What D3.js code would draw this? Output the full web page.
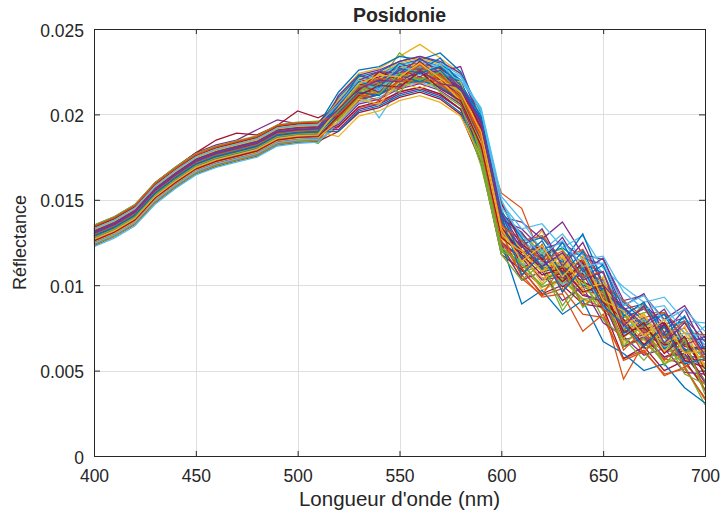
<!DOCTYPE html>
<html><head><meta charset="utf-8">
<script src="https://cdn.jsdelivr.net/npm/d3@7/dist/d3.min.js"></script>
<style>
body{margin:0;background:#fff}
svg{display:block}
text{font-family:"Liberation Sans",Arial,Helvetica,sans-serif;fill:#262626}
</style>
</head><body>
<svg id="chart" width="721" height="511"></svg>
<script>
// ---- data ----
const wavelengths = [400,410,420,430,440,450,460,470,480,490,500,510,520,530,540,550,560,570,580,590,600,610,620,630,640,650,660,670,680,690,700];
const s01 = [.0133,.0138,.01445,.01575,.01668,.01748,.01792,.01826,.01852,.01918,.0193,.01935,.0206,.02185,.02205,.02275,.023,.02262,.0217,.0193,.0138,.013,.0117,.0122,.0113,.0107,.0081,.0086,.0075,.0079,.0061];
const s02 = [.0124,.0129,.01365,.01488,.0158,.01662,.01705,.01738,.01768,.0183,.01846,.01852,.01925,.0204,.02065,.02135,.0216,.02118,.0203,.0176,.0122,.0104,.0094,.0098,.0083,.0081,.0057,.0062,.0047,.0052,.0033];
const s03 = [.013,.01352,.0142,.01552,.01642,.01722,.01766,.01795,.01826,.0189,.01902,.01908,.0211,.0224,.0227,.0234,.0241,.0233,.0224,.0199,.0145,.0116,.0132,.0105,.0112,.0093,.0082,.0073,.0078,.0065,.0062];
const s04 = [.0135,.014,.0147,.016,.0169,.01775,.01822,.0185,.0191,.01968,.01945,.01955,.0203,.0214,.0217,.0223,.0226,.0225,.0228,.0196,.014,.0137,.0127,.0137,.0118,.0115,.0091,.0094,.008,.0088,.0069];
const s05 = [.0127,.01322,.01392,.01522,.01612,.0169,.01733,.01765,.01795,.01858,.01872,.0183,.0195,.0215,.02185,.0236,.0227,.0223,.0214,.018,.012,.0108,.0111,.0085,.0102,.0085,.0075,.0063,.0066,.0053,.003];
const s06 = [.0132,.0137,.0144,.0157,.0166,.01742,.01786,.01815,.01848,.01908,.01925,.01928,.0203,.0215,.0198,.0216,.022,.0217,.0209,.019,.0142,.0127,.0116,.0118,.0118,.0095,.0085,.0073,.0078,.0066,.0076];
const s07 = [.01345,.01392,.01462,.016,.0169,.01775,.0185,.0189,.0188,.01935,.0202,.0198,.0204,.0215,.0218,.0223,.0225,.0221,.0212,.0188,.0133,.0123,.0108,.011,.0099,.0098,.0072,.0075,.0066,.0067,.0052];
const s08 = [.01342,.01392,.01462,.0159,.0168,.01758,.01803,.01835,.01866,.01928,.01944,.0195,.0208,.022,.02235,.0229,.0232,.0228,.0219,.0195,.0136,.0115,.0122,.0104,.0111,.0101,.0072,.0081,.0066,.0068,.0051];
const s09 = [.0125,.013,.01372,.01498,.01592,.01672,.01716,.01748,.01776,.0184,.01855,.0186,.0196,.0208,.02115,.0217,.022,.0216,.0207,.0182,.0125,.011,.0099,.0103,.0092,.0087,.0045,.0066,.0057,.0054,.0042];
const s10 = [.01282,.0133,.014,.01528,.0162,.017,.01745,.01776,.01806,.0187,.01885,.01892,.01995,.02115,.0215,.02215,.0225,.0221,.02115,.0184,.0129,.0112,.0119,.0103,.011,.0087,.008,.0068,.0073,.0058,.0058];
const s11 = [.01312,.0136,.01432,.0156,.0165,.01732,.01776,.01806,.01836,.019,.01915,.0192,.0191,.0203,.0206,.0212,.0215,.0211,.0203,.0177,.0124,.0116,.0104,.0107,.0097,.0094,.0068,.0071,.0061,.0063,.0049];
const s12 = [.01262,.01312,.0138,.0151,.016,.0168,.01725,.01756,.01786,.0185,.01866,.01872,.0201,.0214,.0217,.02225,.0226,.0222,.02125,.0175,.0128,.013,.0119,.0121,.0105,.0104,.0079,.0084,.0084,.0067,.0057];
const s13 = [.0129,.01342,.01412,.0154,.01632,.01712,.01756,.01786,.01818,.0188,.01896,.01902,.0207,.0218,.02215,.0227,.023,.0227,.022,.0203,.015,.0126,.0129,.0114,.012,.0107,.0084,.0088,.0075,.0078,.0065];
const s14 = [.01232,.01285,.01355,.01482,.01574,.01652,.01696,.01728,.01756,.0182,.01836,.01842,.019,.0201,.0204,.021,.0213,.0209,.02,.0172,.0118,.0109,.0095,.01,.0089,.0087,.0057,.0064,.005,.0056,.0039];
const s15 = [.01325,.01376,.01446,.01574,.01665,.01745,.0179,.0182,.0185,.01914,.0193,.01936,.0213,.0226,.0228,.0234,.0232,.0236,.0225,.0201,.0142,.012,.0108,.0113,.0099,.0094,.008,.0065,.0072,.0058,.0058];
const s16 = [.01295,.01346,.01416,.01545,.01636,.01716,.0176,.0179,.0182,.01884,.019,.01906,.0199,.02105,.02135,.0219,.0222,.0218,.0209,.0186,.0133,.0119,.0122,.0108,.0115,.0093,.0083,.0072,.0076,.0061,.0061];
const s17 = [.01246,.01296,.01366,.01494,.01585,.01665,.0171,.01741,.0177,.01834,.0185,.01856,.0209,.0221,.0224,.023,.0233,.0229,.022,.0188,.0126,.0115,.0097,.0103,.0091,.009,.0066,.0068,.0055,.0059,.0044];
const s18 = [.01336,.01388,.01458,.01584,.01676,.01755,.018,.0183,.0186,.01924,.0194,.01945,.0197,.0209,.0212,.0218,.0221,.0217,.0208,.0182,.0138,.0133,.0121,.0125,.0116,.0112,.0086,.0089,.0077,.0081,.0067];
const s19 = [.01236,.01286,.01358,.01486,.01576,.01656,.017,.01731,.0176,.01824,.0184,.01846,.01985,.021,.0213,.02185,.0221,.0217,.0206,.017,.0121,.0116,.0116,.0101,.0107,.01,.0073,.0077,.0064,.0056,.0052];
const s20 = [.01305,.01356,.01426,.01555,.01646,.01726,.0177,.018,.0183,.01895,.0191,.01916,.0204,.0216,.0219,.0224,.0227,.0223,.0216,.02,.0148,.0133,.0136,.0122,.0129,.011,.0099,.009,.0093,.0079,.0078];
const s21 = [.01276,.01326,.01396,.01524,.01615,.01695,.0174,.0177,.018,.01864,.0188,.01886,.0193,.02045,.02075,.0213,.0216,.0212,.0203,.0179,.0125,.0116,.0104,.0107,.0094,.0091,.0064,.0069,.0058,.0062,.0044];
const s22 = [.01316,.01366,.01436,.01565,.01656,.01736,.0178,.0181,.0184,.01905,.0192,.01926,.021,.0222,.0225,.0231,.0234,.023,.022,.019,.0125,.0089,.0097,.0083,.0091,.0067,.006,.005,.0054,.004,.0031];
const s23 = [.01256,.01306,.01376,.01505,.01595,.01675,.0172,.0175,.0178,.01845,.0186,.01866,.0205,.0217,.022,.0226,.0229,.0225,.0216,.019,.0154,.0145,.0115,.0116,.0106,.0103,.0074,.0081,.007,.0075,.0056];
const s24 = [.01288,.01338,.0141,.01538,.0163,.01708,.01754,.01784,.01814,.01878,.01894,.01898,.0187,.0199,.0202,.0208,.0211,.0207,.0199,.0175,.0128,.0123,.011,.0114,.0104,.0099,.0075,.0079,.0065,.0067,.0053];
const s25 = [.01265,.01316,.01386,.01515,.01605,.01685,.0173,.0176,.0179,.01854,.0187,.01876,.02,.0212,.02155,.0221,.0224,.022,.0211,.0183,.0124,.0103,.0108,.0091,.0099,.0078,.007,.0059,.0063,.0049,.0048];
const s26 = [.0133,.0138,.01452,.0158,.0167,.0175,.01795,.01825,.01855,.01918,.01934,.0194,.0201,.0213,.0216,.02215,.0224,.022,.0211,.018,.0127,.0125,.0108,.0114,.0101,.0099,.0074,.009,.0064,.0069,.0051];
const s27 = [.01225,.01276,.01346,.01474,.01566,.01646,.0169,.0172,.0175,.01815,.0183,.01838,.0195,.0207,.021,.0216,.0219,.0215,.0208,.0198,.014,.012,.0109,.0112,.0102,.0097,.0071,.0075,.0064,.0068,.0057];
const s28 = [.013,.0135,.01422,.0155,.01641,.0172,.01765,.01796,.01826,.0189,.01906,.01912,.0207,.0219,.0222,.0228,.023,.0227,.0218,.0195,.014,.011,.0116,.0099,.0107,.0086,.0078,.0065,.0071,.0057,.0056];
const s29 = [.01285,.01336,.01406,.01535,.01626,.01706,.0175,.0178,.0181,.01875,.0189,.01896,.019,.0202,.0205,.0211,.0214,.021,.0201,.0178,.013,.0124,.0128,.0113,.013,.0101,.009,.0079,.0083,.0069,.0068];
const s30 = [.0132,.0137,.0144,.01568,.0166,.0174,.01784,.01815,.01845,.01908,.01924,.0193,.0204,.02155,.02185,.0224,.0227,.0223,.0214,.0187,.0126,.0106,.0093,.0095,.0073,.0083,.0056,.0061,.0048,.0051,.0034];
const s31 = [.0131,.01362,.01432,.0156,.01652,.0173,.01774,.01805,.01834,.01898,.01914,.0192,.0199,.0211,.0214,.02195,.0222,.0218,.021,.0184,.0131,.0117,.0104,.0109,.0097,.0093,.0067,.0072,.0061,.0065,.0054];
const s32 = [.01252,.01302,.01372,.015,.01592,.01672,.01716,.01746,.01776,.0184,.01856,.01862,.0211,.0223,.0226,.0231,.0234,.0231,.0224,.0196,.0136,.0115,.0122,.0107,.0114,.0092,.0085,.0072,.0077,.0062,.0063];
const s33 = [.01352,.01402,.01472,.016,.01692,.0177,.01814,.01845,.01875,.01938,.01955,.0196,.0202,.0214,.0217,.0223,.0226,.0222,.0212,.0178,.0122,.0113,.0099,.0104,.0092,.0092,.0064,.0069,.0054,.0059,.0044];
const s34 = [.0127,.0132,.0139,.0152,.01612,.0169,.01735,.01765,.01795,.0186,.01876,.0188,.02,.0212,.0215,.0221,.02245,.02195,.0212,.02,.0145,.0112,.0114,.01,.0108,.0087,.0077,.0065,.007,.0055,.0054];
const s35 = [.01322,.01372,.01442,.0157,.01662,.0174,.01786,.01816,.01846,.0191,.01926,.01932,.0205,.0217,.022,.0225,.0228,.0224,.0215,.019,.0134,.0119,.0123,.0108,.0115,.0096,.0087,.0074,.0078,.0064,.0063];
const s36 = [.013,.0135,.0142,.01548,.0164,.0172,.01765,.01794,.01825,.0189,.01904,.0191,.0197,.02085,.02115,.02175,.022,.0216,.0208,.0185,.013,.0123,.0109,.0111,.01,.0098,.0072,.0076,.0063,.0067,.0051];
const s37 = [.01242,.01292,.01362,.0149,.01582,.01662,.01706,.01736,.01766,.0183,.01846,.01852,.01985,.021,.0213,.0219,.0222,.0218,.0209,.0182,.0135,.0126,.0129,.0115,.0121,.0101,.0091,.0081,.0084,.0072,.0071];
const s38 = [.01336,.01386,.01456,.01585,.01676,.01756,.018,.0183,.0186,.01924,.0194,.01946,.0206,.0218,.0221,.0227,.023,.0226,.0217,.0192,.0135,.0121,.0108,.0113,.0101,.0096,.007,.0076,.0065,.0068,.0053];
const s39 = [.0128,.0133,.01402,.0153,.0162,.017,.01745,.01775,.01806,.0187,.01885,.01892,.0194,.0206,.0209,.0215,.0218,.0214,.0206,.018,.0125,.0116,.0103,.0105,.0095,.009,.0064,.007,.0058,.006,.0043];
const s40 = [.01305,.01355,.01425,.01553,.01645,.01725,.0177,.018,.0183,.01894,.0191,.01915,.0202,.0214,.0217,.0223,.0226,.0222,.0213,.0176,.012,.0114,.0121,.0106,.0111,.0091,.0083,.007,.0075,.0061,.0061];
const s41 = [.0126,.0131,.0138,.01508,.016,.0168,.01725,.01755,.01785,.0185,.01866,.01872,.0208,.022,.0223,.0229,.0231,.0228,.0222,.0202,.0148,.0125,.0112,.0116,.0105,.0102,.0075,.008,.0067,.0072,.0065];
const s42 = [.0129,.0134,.0141,.0154,.0163,.0171,.01755,.01785,.01815,.0188,.01895,.019,.02,.0212,.0215,.0221,.0224,.022,.0211,.0186,.0132,.012,.011,.0111,.0102,.0096,.0073,.0075,.0065,.0067,.0052];
const s43 = [.0131,.01362,.0143,.0156,.0165,.0173,.01775,.01805,.01836,.01898,.01912,.01918,.0205,.0223,.0219,.023,.0226,.0233,.0218,.0199,.0143,.0128,.011,.0125,.0104,.0112,.0082,.009,.007,.0082,.0056];
const s44 = [.01265,.01315,.01385,.01515,.01606,.01686,.0173,.0176,.0179,.01855,.0187,.01876,.0199,.0208,.0217,.0215,.0226,.0217,.0212,.0186,.0131,.0105,.0124,.0096,.0115,.0086,.0078,.006,.0076,.0052,.006];
const s45 = [.01325,.01375,.01446,.01575,.01665,.01745,.0179,.0182,.0185,.01915,.0193,.01935,.0208,.0214,.0224,.0221,.023,.022,.0219,.0187,.013,.0118,.0101,.0117,.0095,.0105,.0069,.0083,.0061,.0076,.0048];
const s46 = [.01285,.01335,.01405,.01535,.01625,.01705,.0175,.0178,.0181,.01875,.0189,.01895,.0202,.0217,.0213,.0226,.0222,.0228,.0215,.0193,.0139,.0131,.0115,.0128,.0108,.0116,.0088,.0095,.0072,.0086,.0062];
const s47 = [.01295,.01345,.01415,.01545,.01635,.01715,.0176,.0179,.0182,.01885,.019,.01905,.0197,.021,.0218,.0213,.0225,.0213,.0205,.0173,.0118,.0103,.0113,.0088,.0104,.008,.0069,.0056,.007,.0048,.0042];
const s48 = [.01245,.01295,.01365,.01495,.01585,.01665,.0171,.0174,.0177,.01835,.0185,.01856,.0204,.0219,.0214,.0225,.0228,.0225,.022,.0204,.0152,.0138,.012,.013,.0115,.0117,.0096,.0086,.0088,.0072,.007];
const s49 = [.0134,.0139,.0146,.0159,.0168,.0176,.01805,.01835,.01865,.0193,.01945,.0195,.0206,.0214,.0225,.022,.0231,.022,.0216,.0192,.0148,.0124,.0115,.0102,.0113,.009,.008,.0065,.0077,.0056,.0052];
const s50 = [.01275,.01325,.01395,.01525,.01615,.01695,.0174,.0177,.018,.01865,.0188,.01885,.0201,.0213,.0211,.0223,.0219,.0226,.0214,.0198,.0142,.0116,.0126,.0106,.012,.0096,.0086,.0076,.0083,.0062,.0064];
const s51 = [.013,.0135,.0142,.0155,.0164,.0172,.01765,.01795,.01825,.0189,.01905,.0191,.0203,.0216,.0221,.022,.0229,.0219,.021,.018,.0125,.011,.0094,.0112,.0088,.0096,.0062,.0074,.0056,.0068,.0038];
const s52 = [.01255,.01305,.01375,.01505,.01595,.01675,.0172,.0175,.0178,.01845,.0186,.01865,.0196,.0209,.0206,.0219,.0215,.022,.0208,.0183,.0127,.012,.0108,.0118,.0098,.0101,.0076,.0083,.0066,.0072,.0052];
const s53 = [.01315,.01365,.01435,.01565,.01655,.01735,.0178,.0181,.0184,.01905,.0192,.01925,.0207,.022,.0225,.0224,.0233,.0224,.0215,.0195,.0137,.0122,.0133,.0111,.0125,.01,.0087,.0077,.0086,.0065,.007];
const s54 = [.0128,.0133,.014,.0153,.0162,.017,.01745,.01775,.01805,.0187,.01885,.0189,.0202,.0217,.0212,.0224,.022,.0225,.0211,.0178,.0122,.0112,.01,.0111,.0087,.0097,.0064,.0079,.0053,.0068,.0036];
const s55 = [.0133,.0138,.0145,.0158,.0167,.0175,.01795,.01825,.01855,.0192,.01935,.0194,.0206,.022,.0215,.0229,.0223,.023,.0223,.0203,.0146,.0129,.0118,.0126,.0111,.0113,.0088,.0094,.0079,.0086,.0073];
const s56 = [.0126,.0131,.0138,.0151,.016,.0168,.01725,.01755,.01785,.0185,.01865,.0187,.0199,.0211,.0217,.0216,.0225,.0215,.0208,.0182,.0128,.0118,.0106,.011,.0096,.01,.007,.0078,.006,.007,.0047];
const s57 = [.0129,.0134,.0141,.0154,.0163,.0171,.01755,.01785,.01815,.0188,.01895,.019,.0205,.0219,.0216,.0227,.0224,.0228,.0217,.0197,.014,.0106,.0118,.0096,.011,.0088,.0077,.0064,.0076,.0054,.0057];
const s58 = [.01345,.01395,.01465,.01595,.01685,.01765,.0181,.0184,.0187,.01935,.0195,.01955,.02,.0212,.0208,.0221,.0218,.0223,.0212,.0188,.0135,.0126,.0114,.012,.0105,.0108,.0078,.0087,.0069,.0079,.0056];
const s59 = [.0127,.0132,.0139,.0152,.0161,.0169,.01735,.01765,.01795,.0186,.01875,.0188,.0204,.0218,.0223,.0222,.023,.0221,.0213,.019,.0133,.0114,.0123,.0105,.0117,.0091,.0085,.007,.008,.006,.0062];
const s60 = [.01305,.01355,.01425,.01555,.01645,.01725,.0177,.018,.0183,.01895,.0191,.01915,.0203,.0215,.022,.0219,.0226,.0218,.0216,.0196,.0142,.0123,.0111,.0119,.0103,.0108,.0076,.0088,.0066,.0078,.0059];
const spectra = [s01,s02,s03,s04,s05,s06,s07,s08,s09,s10,s11,s12,s13,s14,s15,s16,s17,s18,s19,s20,s21,s22,s23,s24,s25,s26,s27,s28,s29,s30,s31,s32,s33,s34,s35,s36,s37,s38,s39,s40,s41,s42,s43,s44,s45,s46,s47,s48,s49,s50,s51,s52,s53,s54,s55,s56,s57,s58,s59,s60];
const lineColors = ["#0072BD","#D95319","#EDB120","#7E2F8E","#77AC30","#4DBEEE","#A2142F"];
const xTicks = [400,450,500,550,600,650,700];
const yTicks = [0,0.005,0.01,0.015,0.02,0.025];
const yTickLabels = ["0","0.005","0.01","0.015","0.02","0.025"];
const titleText = "Posidonie";
const xLabelText = "Longueur d'onde (nm)";
const yLabelText = "Réflectance";

// ---- layout ----
const plot = {left:94, right:705, top:29, bottom:456};
const x = d3.scaleLinear().domain([400,700]).range([plot.left, plot.right]);
const y = d3.scaleLinear().domain([0,0.025]).range([plot.bottom, plot.top]);
const svg = d3.select("#chart");
const axisColor = "#262626";
const tickFont = "17.5px";

// grid
const grid = svg.append("g").attr("stroke","#dfdfdf").attr("stroke-width",1).attr("shape-rendering","crispEdges");
grid.selectAll("line.gx").data(xTicks).join("line").attr("class","gx")
  .attr("x1",d=>Math.round(x(d))+0.5).attr("x2",d=>Math.round(x(d))+0.5)
  .attr("y1",plot.top).attr("y2",plot.bottom);
grid.selectAll("line.gy").data(yTicks).join("line").attr("class","gy")
  .attr("y1",d=>Math.round(y(d))+0.5).attr("y2",d=>Math.round(y(d))+0.5)
  .attr("x1",plot.left).attr("x2",plot.right);

// spectra
const line = d3.line().x((d,i)=>x(wavelengths[i])).y(d=>y(d));
svg.append("g").selectAll("path").data(spectra).join("path")
  .attr("d", line)
  .attr("fill","none")
  .attr("stroke",(d,i)=>lineColors[i % lineColors.length])
  .attr("stroke-width",1.3)
  .attr("stroke-linejoin","miter");

// axes
function styleAxis(g, showLabels){
  g.select(".domain").remove();
  g.selectAll(".tick line").attr("stroke",axisColor).attr("stroke-width",1);
  g.selectAll(".tick text").attr("fill",axisColor).style("font-size",tickFont)
    .style("font-family",'"Liberation Sans",Arial,sans-serif');
  if(!showLabels) g.selectAll(".tick text").remove();
}
svg.append("g").attr("transform",`translate(0,${plot.bottom})`)
  .call(d3.axisBottom(x).tickValues(xTicks).tickFormat(d3.format("d")).tickSizeInner(-5).tickSizeOuter(0).tickPadding(13.5))
  .call(g=>styleAxis(g,true));
svg.append("g").attr("transform",`translate(0,${plot.top})`)
  .call(d3.axisTop(x).tickValues(xTicks).tickSizeInner(-5).tickSizeOuter(0))
  .call(g=>styleAxis(g,false));
svg.append("g").attr("transform",`translate(${plot.left},0)`)
  .call(d3.axisLeft(y).tickValues(yTicks).tickFormat((d,i)=>yTickLabels[i]).tickSizeInner(-6).tickSizeOuter(0).tickPadding(10))
  .call(g=>styleAxis(g,true))
  .call(g=>g.selectAll(".tick text").attr("dy","0.4em"));
svg.append("g").attr("transform",`translate(${plot.right},0)`)
  .call(d3.axisRight(y).tickValues(yTicks).tickSizeInner(-6).tickSizeOuter(0))
  .call(g=>styleAxis(g,false));

// box
svg.append("rect").attr("x",plot.left+0.5).attr("y",plot.top+0.5)
  .attr("width",plot.right-plot.left).attr("height",plot.bottom-plot.top)
  .attr("fill","none").attr("stroke",axisColor).attr("stroke-width",1)
  .attr("shape-rendering","crispEdges");

// texts
svg.append("text").attr("x",(plot.left+plot.right)/2).attr("y",22)
  .attr("text-anchor","middle").style("font-size","19.5px").style("font-weight","bold")
  .attr("fill","#000").text(titleText);
svg.append("text").attr("x",(plot.left+plot.right)/2).attr("y",506)
  .attr("text-anchor","middle").style("font-size","20.5px").text(xLabelText);
svg.append("text").attr("transform",`translate(26,${(plot.top+plot.bottom)/2}) rotate(-90)`)
  .attr("text-anchor","middle").style("font-size","18px").text(yLabelText);
</script>
</body></html>
